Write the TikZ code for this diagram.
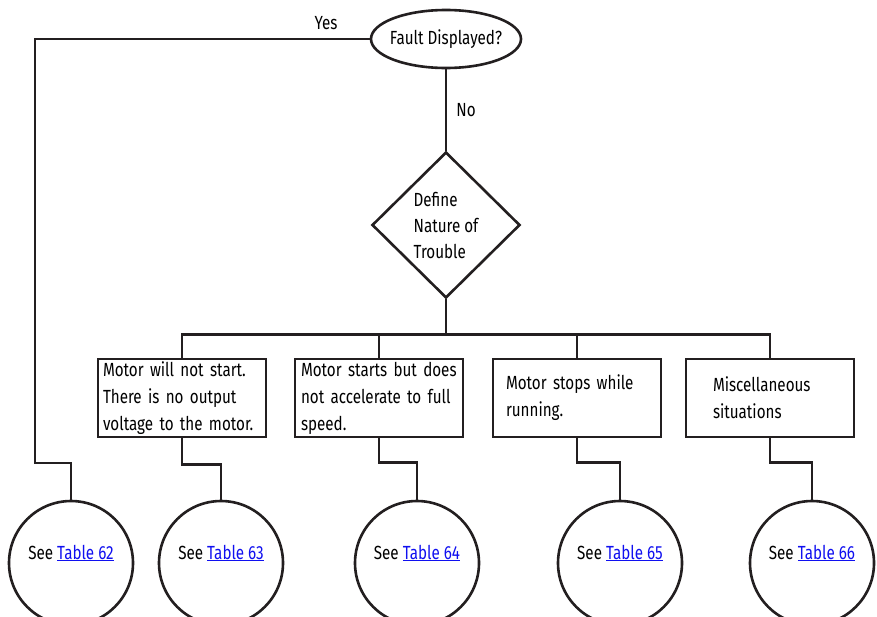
\documentclass[tikz,border=0pt]{standalone}
\usepackage{fontspec}
\setmainfont[FakeStretch=0.8]{Fira Sans}
\usepackage{tikz}
\usetikzlibrary{positioning, shapes.geometric, calc}
\definecolor{linecol}{HTML}{231F20}
\definecolor{linkcol}{HTML}{1010F0}
\tikzset{
  % every connector
  wire/.style={draw=linecol, line width=2.6pt},
  % question ellipse
  question/.style={ellipse, draw=linecol, line width=2.6pt, fill=white,
                   minimum width=150pt, minimum height=58pt,
                   inner xsep=-3pt, inner ysep=0pt},
  % decision diamond
  decision/.style={diamond, draw=linecol, line width=2.6pt, fill=white,
                   aspect=1, minimum width=148pt, minimum height=146pt,
                   inner sep=0pt, align=left},
  % trouble box
  trouble/.style={rectangle, draw=linecol, line width=2.6pt, fill=white,
                  minimum width=168pt, minimum height=78pt,
                  inner sep=0pt, text width=#1, align=left},
  % end circle
  seecirc/.style={circle, draw=linecol, line width=2.6pt, fill=white,
                  minimum size=124pt, inner sep=0pt},
  caption/.style={text=black, inner sep=0pt},
}
\newcommand{\tabref}[1]{\textcolor{linkcol}{\underline{Table #1}}}

\begin{document}
\begin{tikzpicture}[x=1pt, y=-1pt, every node/.append style={font=\fontsize{19}{27}\selectfont}]
  \useasboundingbox (0,0) rectangle (877,616);
  \fill[white] (0,0) rectangle (877,616);

  % top question and decision
  \node[question] (fault) at (446,39) {Fault Displayed?};
  \node[decision] (nature) at (446,225) {Define\\[-1pt]Nature of\\[-1pt]Trouble};

  % the four kinds of trouble
  \node[trouble=158pt] (b1) at (182,398) {Motor will not start. There is no output voltage to the motor.};
  \node[trouble=156pt] (b2) at (379,398) {Motor starts but does not accelerate to full speed.};
  \node[trouble=142pt] (b3) at (577,398) {Motor stops while running.};
  \node[trouble=114pt] (b4) at (770,398) {Miscellaneous situations};

  % end circles
  \foreach \n/\x in {62/71, 63/221, 64/417, 65/620, 66/812} {
    \node[seecirc] (c\n) at (\x,563) {};
    \node[caption] (t\n) at (\x,553) {See \tabref{\n}};
  }

  % yes branch
  \coordinate (yesbend) at (35,463);
  \draw[wire] (fault.west) -| (yesbend) -| (c62.north);
  \node[caption] (yes) at (326,23) {Yes};

  % no branch
  \draw[wire] (fault.south) -- (nature.north);
  \node[caption] (no) at (466,110) {No};

  % bus to the boxes
  \draw[wire] (nature.south) -- ++(0,36);
  \draw[wire] (b1.north) -- ++(0,-23) -| (b4.north);
  \draw[wire] (b2.north) -- ++(0,-23);
  \draw[wire] (b3.north) -- ++(0,-23);

  % boxes to circles
  \draw[wire] (b1.south) -- ++(0,26) -| (c63.north);
  \draw[wire] (b2.south) -- ++(0,24) -| (c64.north);
  \draw[wire] (b3.south) -- ++(0,24) -| (c65.north);
  \draw[wire] (b4.south) -- ++(0,24) -| (c66.north);
\end{tikzpicture}
\end{document}
